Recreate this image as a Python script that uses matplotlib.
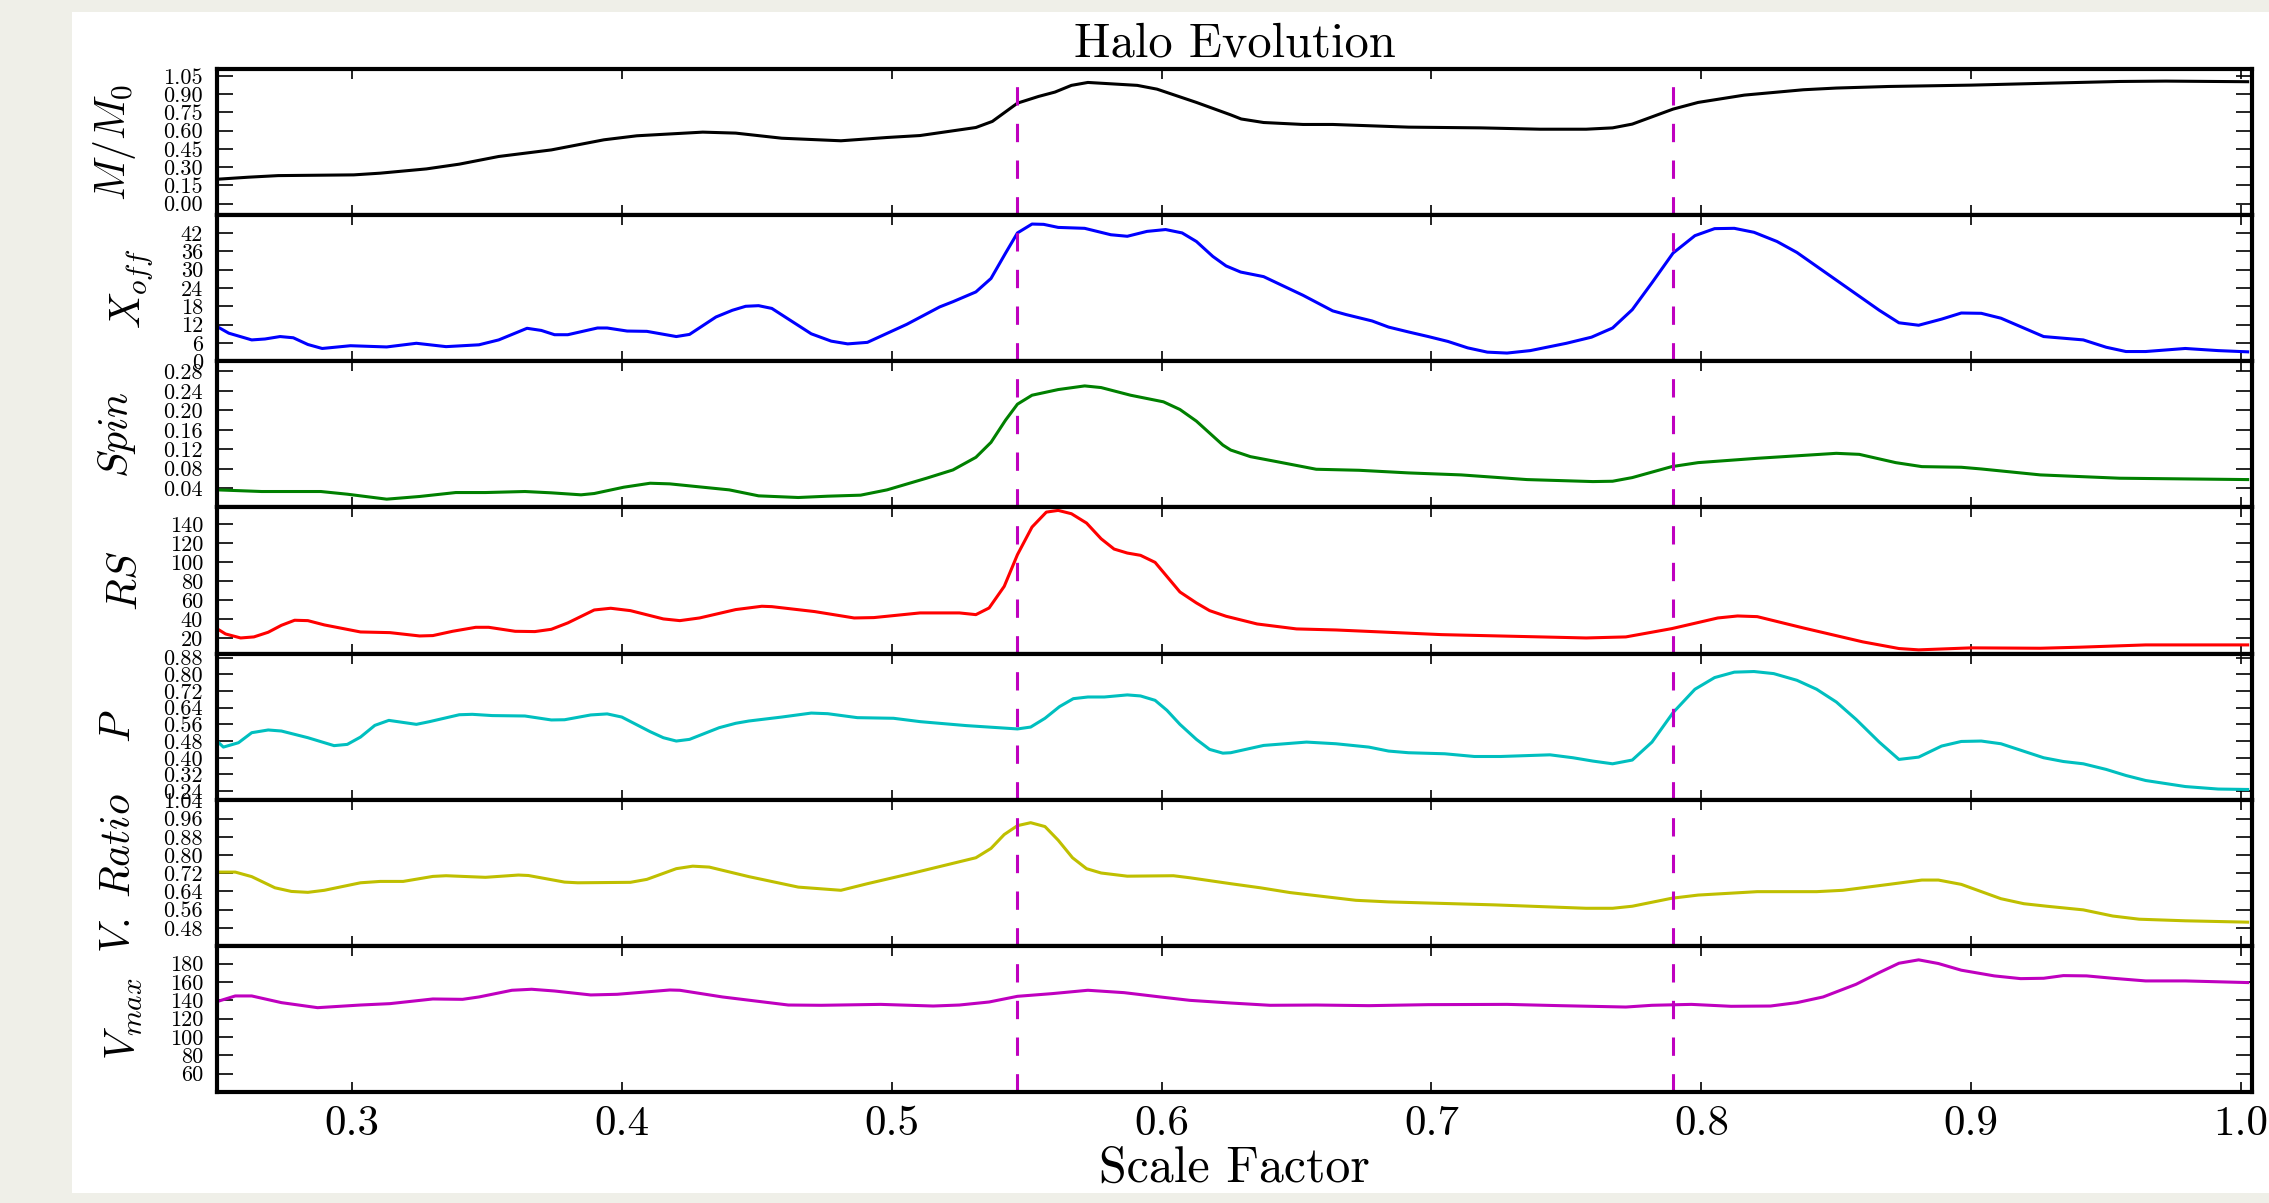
"""Halo evolution: seven stacked panels against scale factor."""
import numpy as np
import matplotlib
matplotlib.use('Agg')
import matplotlib.pyplot as plt
from matplotlib.patches import Rectangle
from matplotlib.ticker import FixedLocator, FormatStrFormatter, MultipleLocator

plt.rcParams['font.family'] = 'serif'
plt.rcParams['font.serif'] = ['cmr10']
plt.rcParams['mathtext.fontset'] = 'cm'
plt.rcParams['axes.formatter.use_mathtext'] = True
plt.rcParams['axes.unicode_minus'] = False

# major merger epochs (scale factor)
merger_a = [0.5466, 0.7895]

# M/M0
mass_a = [0.25, 0.2617, 0.2727, 0.3007, 0.3105, 0.3276, 0.3398, 0.3544, 0.3739, 0.3934,
          0.4056, 0.43, 0.4422, 0.4593, 0.4812, 0.4983, 0.5105, 0.5312, 0.5373, 0.5466,
          0.5544, 0.5605, 0.5666, 0.5727, 0.591, 0.5983, 0.6129, 0.6256, 0.6295, 0.6378,
          0.6524, 0.6634, 0.6915, 0.7183, 0.7402, 0.7573, 0.7671, 0.7744, 0.7895, 0.7988,
          0.8159, 0.8378, 0.85, 0.8695, 0.9, 0.9305, 0.9549, 0.972, 1.0024]
mass = [0.200, 0.217, 0.230, 0.236, 0.250, 0.285, 0.324, 0.387, 0.441, 0.524,
        0.557, 0.587, 0.579, 0.537, 0.516, 0.543, 0.559, 0.625, 0.675, 0.825,
        0.880, 0.916, 0.971, 0.995, 0.971, 0.940, 0.831, 0.729, 0.695, 0.666,
        0.650, 0.650, 0.628, 0.622, 0.611, 0.611, 0.622, 0.653, 0.776, 0.831,
        0.891, 0.935, 0.949, 0.962, 0.973, 0.990, 1.003, 1.006, 1.001]

# X_off
xoff_a = [0.25, 0.2544, 0.2629, 0.2678, 0.2734, 0.2783, 0.2837, 0.289, 0.2995, 0.3129,
          0.3239, 0.3349, 0.3471, 0.3544, 0.3649, 0.3702, 0.3751, 0.38, 0.391, 0.3946,
          0.402, 0.4093, 0.4202, 0.4251, 0.4349, 0.441, 0.4459, 0.4507, 0.4556, 0.4702,
          0.4776, 0.4837, 0.491, 0.5056, 0.5178, 0.5227, 0.5312, 0.5368, 0.5422, 0.5466,
          0.552, 0.5563, 0.5617, 0.5715, 0.5812, 0.5873, 0.5946, 0.6015, 0.6076, 0.6129,
          0.619, 0.6239, 0.6293, 0.6378, 0.6524, 0.6634, 0.6683, 0.678, 0.6841, 0.6915,
          0.6988, 0.7061, 0.7134, 0.7207, 0.728, 0.7366, 0.75, 0.7593, 0.7671, 0.7744,
          0.7817, 0.7895, 0.7976, 0.8049, 0.8122, 0.8195, 0.828, 0.8354, 0.8659, 0.8732,
          0.8805, 0.889, 0.8963, 0.9037, 0.911, 0.9268, 0.9415, 0.95, 0.9573, 0.9646,
          0.9793, 0.9915, 1.0024]
xoff = [11.4, 9.2, 7.0, 7.3, 8.1, 7.7, 5.5, 4.2, 5.1, 4.7,
        5.9, 4.8, 5.4, 7.0, 10.8, 10.1, 8.7, 8.7, 10.9, 10.9,
        9.9, 9.8, 8.1, 8.8, 14.5, 16.7, 18.0, 18.2, 17.3, 9.0,
        6.6, 5.7, 6.2, 12.1, 17.8, 19.5, 22.7, 27.1, 35.4, 42.0,
        44.9, 44.8, 43.8, 43.5, 41.4, 40.9, 42.5, 43.1, 42.0, 39.2,
        34.3, 31.2, 29.2, 27.7, 21.6, 16.5, 15.3, 13.2, 11.2, 9.6,
        8.1, 6.5, 4.4, 3.0, 2.7, 3.5, 5.9, 7.9, 10.9, 16.9,
        25.7, 35.4, 41.1, 43.4, 43.5, 42.2, 39.2, 35.6, 16.7, 12.6,
        11.8, 13.8, 15.8, 15.7, 14.1, 8.1, 7.0, 4.6, 3.2, 3.2,
        4.2, 3.5, 3.1]

# Spin
spin_a = [0.25, 0.2666, 0.2885, 0.2983, 0.3129, 0.3251, 0.3385, 0.3495, 0.3641, 0.3739,
          0.3849, 0.3898, 0.4007, 0.4105, 0.4178, 0.4276, 0.4398, 0.4507, 0.4654, 0.4763,
          0.4885, 0.4983, 0.5129, 0.5227, 0.5312, 0.5368, 0.5422, 0.5466, 0.552, 0.5617,
          0.5715, 0.5776, 0.5885, 0.6007, 0.6068, 0.6129, 0.6227, 0.6256, 0.6329, 0.6427,
          0.6573, 0.6732, 0.6915, 0.711, 0.7354, 0.7598, 0.7671, 0.7744, 0.789, 0.7988,
          0.8207, 0.85, 0.8585, 0.872, 0.8817, 0.8963, 0.9037, 0.9256, 0.9549, 1.0024]
spin = [0.0366, 0.0332, 0.0332, 0.0277, 0.0175, 0.0230, 0.0311, 0.0311, 0.0332, 0.0305,
        0.0264, 0.0291, 0.0420, 0.0502, 0.0489, 0.0434, 0.0366, 0.0243, 0.0209, 0.0236,
        0.0257, 0.0366, 0.0605, 0.0775, 0.1034, 0.1341, 0.1798, 0.2125, 0.2309, 0.2425,
        0.2500, 0.2466, 0.2309, 0.2173, 0.2016, 0.1777, 0.1286, 0.1184, 0.1048, 0.0945,
        0.0789, 0.0768, 0.0714, 0.0673, 0.0577, 0.0536, 0.0543, 0.0618, 0.0843, 0.0925,
        0.1014, 0.1116, 0.1095, 0.0925, 0.0843, 0.0830, 0.0795, 0.0673, 0.0605, 0.0577]

# RS
rs_a = [0.25, 0.2532, 0.2588, 0.2637, 0.269, 0.2739, 0.2788, 0.2837, 0.2898, 0.3032,
        0.3141, 0.3251, 0.33, 0.3373, 0.3459, 0.3507, 0.3605, 0.3678, 0.3739, 0.38,
        0.3898, 0.3959, 0.4032, 0.4154, 0.4215, 0.4288, 0.4422, 0.4519, 0.4556, 0.4715,
        0.4861, 0.4934, 0.5105, 0.5251, 0.5312, 0.5361, 0.5417, 0.5466, 0.552, 0.5573,
        0.5617, 0.5666, 0.5722, 0.5776, 0.5824, 0.5873, 0.5922, 0.5976, 0.6068, 0.6129,
        0.6178, 0.6239, 0.6354, 0.65, 0.6646, 0.7037, 0.7573, 0.772, 0.789, 0.8061,
        0.8134, 0.8207, 0.8378, 0.8598, 0.8732, 0.8805, 0.9, 0.9256, 0.9402, 0.9646,
        1.0024]
rs = [30.1, 24.5, 20.3, 21.4, 26.3, 33.6, 38.9, 38.5, 34.0, 26.6,
      25.9, 22.4, 22.8, 27.3, 31.5, 31.5, 27.3, 27.0, 29.4, 36.1,
      49.7, 51.5, 49.0, 40.3, 38.5, 41.3, 50.1, 53.6, 53.2, 48.0,
      41.3, 41.7, 46.6, 46.6, 44.8, 51.8, 74.5, 107.8, 136.8, 152.5,
      154.3, 150.8, 141.0, 124.5, 113.7, 109.5, 107.1, 99.7, 68.6, 57.1,
      49.0, 43.1, 35.0, 29.8, 28.7, 23.8, 20.3, 21.4, 30.1, 41.3,
      43.4, 42.7, 30.8, 16.2, 9.2, 7.8, 9.9, 9.5, 10.6, 13.0,
      13.0]

# P
p_a = [0.25, 0.2524, 0.258, 0.2629, 0.269, 0.2739, 0.2837, 0.2934, 0.2983, 0.3032,
       0.3085, 0.3137, 0.3239, 0.3288, 0.3398, 0.3446, 0.352, 0.3641, 0.3739, 0.3788,
       0.3885, 0.3946, 0.4, 0.4105, 0.4154, 0.4202, 0.4251, 0.4361, 0.4422, 0.4471,
       0.4593, 0.4702, 0.4763, 0.4873, 0.5007, 0.5105, 0.5276, 0.5466, 0.5515, 0.5568,
       0.5622, 0.5673, 0.5727, 0.5788, 0.5873, 0.5922, 0.5976, 0.602, 0.6068, 0.6129,
       0.6178, 0.6227, 0.6256, 0.6378, 0.6537, 0.6646, 0.6768, 0.6841, 0.6915, 0.7049,
       0.7159, 0.7256, 0.7439, 0.7524, 0.7598, 0.7671, 0.7744, 0.7817, 0.7895, 0.7976,
       0.8049, 0.8122, 0.8195, 0.8268, 0.8354, 0.8427, 0.85, 0.8573, 0.8659, 0.8732,
       0.8805, 0.889, 0.8963, 0.9037, 0.911, 0.9268, 0.9341, 0.9415, 0.95, 0.9573,
       0.9646, 0.9793, 0.9915, 1.0024]
p = [0.480, 0.451, 0.472, 0.520, 0.533, 0.528, 0.496, 0.458, 0.464, 0.499,
     0.555, 0.579, 0.560, 0.573, 0.606, 0.608, 0.602, 0.600, 0.581, 0.582,
     0.605, 0.610, 0.595, 0.525, 0.496, 0.480, 0.488, 0.544, 0.565, 0.576,
     0.595, 0.614, 0.611, 0.592, 0.589, 0.573, 0.554, 0.538, 0.547, 0.589,
     0.645, 0.683, 0.691, 0.691, 0.701, 0.696, 0.675, 0.627, 0.560, 0.488,
     0.440, 0.422, 0.424, 0.459, 0.475, 0.467, 0.451, 0.432, 0.424, 0.419,
     0.406, 0.406, 0.414, 0.400, 0.384, 0.371, 0.389, 0.475, 0.616, 0.728,
     0.784, 0.810, 0.813, 0.803, 0.771, 0.728, 0.667, 0.584, 0.475, 0.392,
     0.403, 0.456, 0.478, 0.480, 0.467, 0.400, 0.382, 0.371, 0.344, 0.315,
     0.291, 0.262, 0.250, 0.248]

# V. Ratio
vratio_a = [0.25, 0.2568, 0.2629, 0.2715, 0.2776, 0.2837, 0.2898, 0.3032, 0.3105, 0.319,
            0.33, 0.3349, 0.3495, 0.3617, 0.3654, 0.3788, 0.3837, 0.4032, 0.4093, 0.4202,
            0.4263, 0.4324, 0.4471, 0.4654, 0.4812, 0.491, 0.508, 0.5312, 0.5368, 0.5417,
            0.5466, 0.5515, 0.5568, 0.5617, 0.567, 0.5722, 0.5776, 0.5873, 0.6044, 0.6105,
            0.6256, 0.6366, 0.6476, 0.672, 0.6841, 0.7232, 0.7573, 0.7671, 0.7744, 0.789,
            0.7988, 0.8207, 0.8427, 0.8524, 0.8695, 0.8817, 0.8878, 0.8963, 0.911, 0.9195,
            0.928, 0.9415, 0.9524, 0.9622, 0.9793, 1.0024]
vratio = [0.725, 0.725, 0.705, 0.656, 0.640, 0.636, 0.645, 0.678, 0.684, 0.684,
          0.706, 0.709, 0.702, 0.712, 0.710, 0.681, 0.678, 0.680, 0.693, 0.740,
          0.751, 0.747, 0.705, 0.659, 0.645, 0.674, 0.721, 0.788, 0.829, 0.890,
          0.929, 0.942, 0.925, 0.865, 0.788, 0.740, 0.721, 0.707, 0.709, 0.700,
          0.674, 0.656, 0.635, 0.601, 0.594, 0.581, 0.566, 0.566, 0.575, 0.610,
          0.624, 0.639, 0.639, 0.645, 0.671, 0.690, 0.690, 0.671, 0.608, 0.586,
          0.575, 0.559, 0.532, 0.518, 0.511, 0.505]

# V_max
vmax_a = [0.25, 0.2568, 0.2629, 0.2739, 0.2873, 0.3032, 0.3141, 0.33, 0.341, 0.3471,
          0.3593, 0.3666, 0.3751, 0.3885, 0.3983, 0.4178, 0.4215, 0.4373, 0.4617, 0.4739,
          0.4959, 0.5154, 0.5251, 0.5361, 0.5466, 0.5593, 0.5727, 0.5861, 0.5995, 0.6105,
          0.6256, 0.6402, 0.6573, 0.6768, 0.6988, 0.728, 0.7476, 0.772, 0.7817, 0.7963,
          0.811, 0.8256, 0.8354, 0.8451, 0.8573, 0.8659, 0.8732, 0.8805, 0.8878, 0.8963,
          0.9085, 0.9183, 0.9268, 0.9341, 0.9427, 0.9524, 0.9646, 0.9793, 1.0024]
vmax = [138.5, 144.7, 144.7, 137.4, 131.9, 134.8, 136.3, 141.4, 141.0, 143.6,
        150.9, 152.0, 150.1, 145.8, 146.5, 151.2, 150.9, 143.6, 134.8, 134.5,
        135.5, 133.7, 134.8, 138.1, 144.3, 147.2, 150.9, 148.3, 143.6, 139.9,
        137.0, 134.5, 134.8, 134.1, 135.2, 135.5, 134.1, 132.6, 134.5, 135.5,
        133.4, 133.7, 137.4, 143.6, 157.4, 170.2, 180.4, 184.1, 180.1, 172.8,
        166.6, 163.6, 164.0, 166.9, 166.6, 164.0, 161.1, 161.1, 159.3]

# y tick values per panel
mass_ticks = [0.00, 0.15, 0.30, 0.45, 0.60, 0.75, 0.90, 1.05]
xoff_ticks = [0, 6, 12, 18, 24, 30, 36, 42]
spin_ticks = [0.04, 0.08, 0.12, 0.16, 0.20, 0.24, 0.28]
rs_ticks = [20, 40, 60, 80, 100, 120, 140]
p_ticks = [0.24, 0.32, 0.40, 0.48, 0.56, 0.64, 0.72, 0.80, 0.88]
vratio_ticks = [0.48, 0.56, 0.64, 0.72, 0.80, 0.88, 0.96, 1.04]
vmax_ticks = [60, 80, 100, 120, 140, 160, 180]

panels = [
    (mass_a, mass, 'k', r'$M/M_0$', mass_ticks, '%.2f', (-0.095, 1.105)),
    (xoff_a, xoff, 'b', r'$X_{off}$', xoff_ticks, '%d', (0, 47.8)),
    (spin_a, spin, 'g', r'$Spin$', spin_ticks, '%.2f', (0.0005, 0.3005)),
    (rs_a, rs, 'r', r'$RS$', rs_ticks, '%d', (3.9, 157.4)),
    (p_a, p, 'c', r'$P$', p_ticks, '%.2f', (0.199, 0.899)),
    (vratio_a, vratio, 'y', r'$V.\ Ratio$', vratio_ticks, '%.2f', (0.401, 1.043)),
    (vmax_a, vmax, 'm', r'$V_{max}$', vmax_ticks, '%d', (39.9, 199.4)),
]

fig = plt.figure(figsize=(22.69, 12.03), dpi=100, facecolor='#efefe8')
fig.add_artist(Rectangle((72/2269., 10/1203.), 1.0, 1 - 22/1203., transform=fig.transFigure,
                         facecolor='white', edgecolor='none', zorder=-10))
axes = fig.subplots(len(panels), 1, sharex=True)
fig.subplots_adjust(left=0.0956, right=0.9925, top=0.9426, bottom=0.0923, hspace=0)

for ax, (xa, ya, col, lab, ticks, fmt, lims) in zip(axes, panels):
    ax.set_facecolor('white')
    ax.plot(xa, ya, color=col, lw=2.2)
    for a in merger_a:
        ax.axvline(a, color='m', ls='--', lw=2.2, dashes=(6, 6))
    ax.set_ylim(lims)
    ax.yaxis.set_major_locator(FixedLocator(ticks))
    ax.yaxis.set_major_formatter(FormatStrFormatter(fmt))
    ax.set_ylabel(lab, fontsize=30, labelpad=18)
    for sp in ax.spines.values():
        sp.set_linewidth(3)
    ax.tick_params(axis='y', which='major', direction='in', left=True, right=True,
                   length=11.5, width=1.2, labelsize=16, pad=10)
    ax.tick_params(axis='x', which='major', direction='in', top=True, bottom=True,
                   length=7.5, width=1.2, labelsize=31, pad=10)

axes[-1].set_xlim(0.25, 1.004)
axes[-1].xaxis.set_major_locator(MultipleLocator(0.1))
axes[-1].xaxis.set_major_formatter(FormatStrFormatter('%.1f'))
axes[-1].set_xlabel('Scale Factor', fontsize=36, labelpad=2)
axes[0].set_title('Halo Evolution', fontsize=35, pad=9)

fig.savefig('out.png', dpi=100, facecolor=fig.get_facecolor())
